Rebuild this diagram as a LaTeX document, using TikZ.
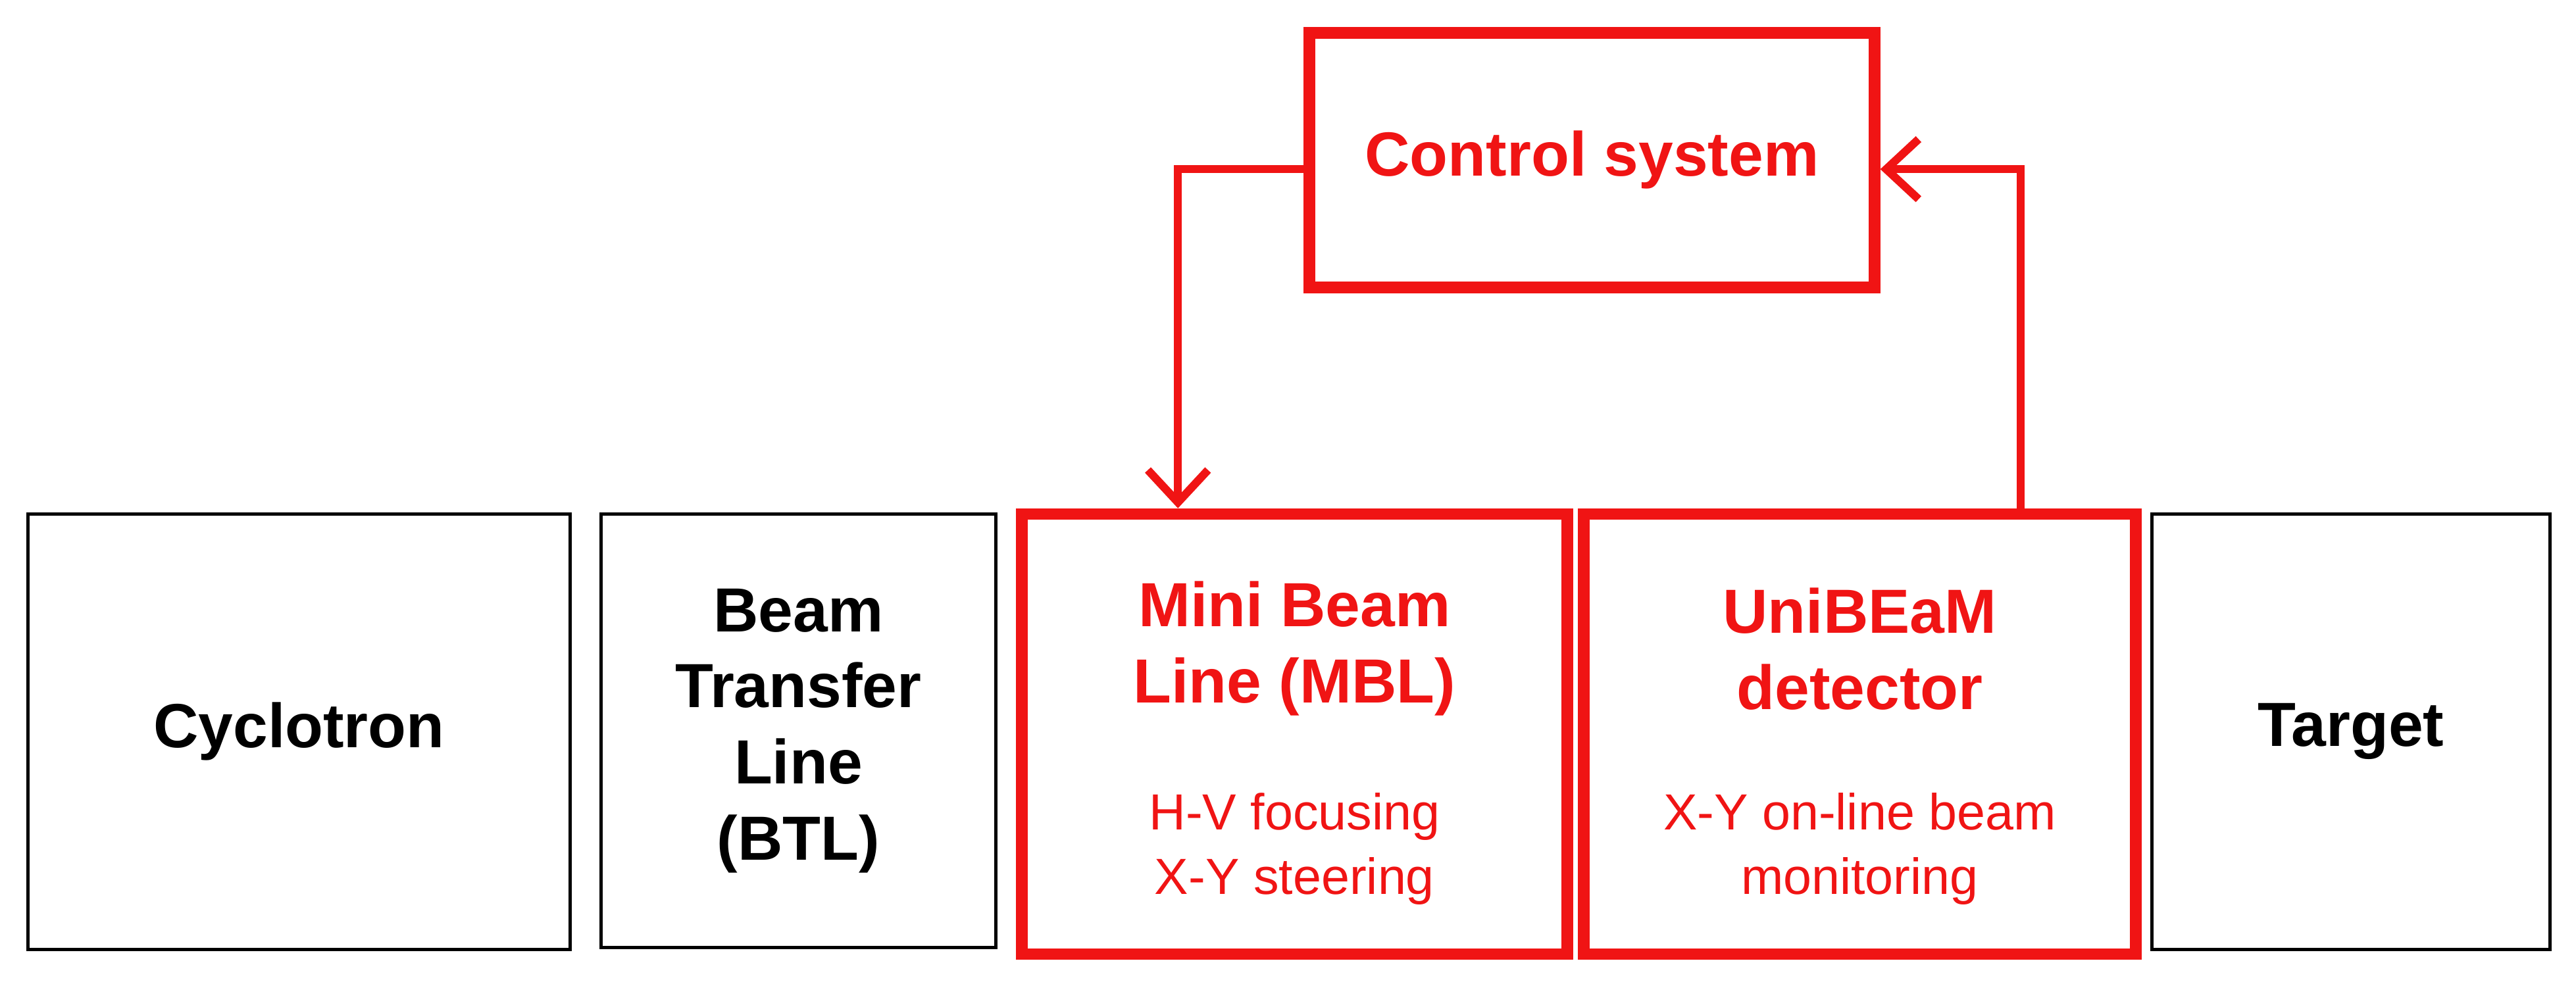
\documentclass[tikz,border=0pt]{standalone}
\usepackage{fontspec}
\setmainfont{Liberation Sans}
\usetikzlibrary{arrows.meta}
\definecolor{rd}{RGB}{240,20,20}
\begin{document}
\begin{tikzpicture}[x=0.025cm,y=-0.025cm,
 blk/.style={draw=black,line width=1.4pt,align=center,font=\bfseries\fontsize{27}{33}\selectfont,inner sep=0pt},
 red/.style={draw=rd,line width=5pt,align=center,text=rd,font=\bfseries\fontsize{27}{33}\selectfont,inner sep=0pt},
 sub/.style={font=\fontsize{22}{28}\selectfont,text=rd},
 conn/.style={draw=rd,line width=3.5pt,-{Straight Barb[length=14pt,width=26pt,line width=3.5pt]}}]
\useasboundingbox (0,0) rectangle (1568,600);
\node[blk,minimum width=330*0.025cm,minimum height=265*0.025cm] (cyc) at (182,445.5) {Cyclotron};
\node[blk,minimum width=240*0.025cm,minimum height=264*0.025cm] (btl) at (486,445) {Beam\\Transfer\\Line\\(BTL)};
\node[red,minimum width=332*0.025cm,minimum height=268*0.025cm] (mbl) at (788,447) {};
\node[red,minimum width=336*0.025cm,minimum height=268*0.025cm] (uni) at (1132,447) {};
\node[blk,minimum width=242*0.025cm,minimum height=265*0.025cm] (tgt) at (1431,445.5) {Target};
\node[red,minimum width=344*0.025cm,minimum height=155*0.025cm] (ctl) at (969,97.5) {Control system};
\node[text=rd,align=center,font=\bfseries\fontsize{27}{33}\selectfont] (mblt) at (788,395) {Mini Beam\\Line (MBL)};
\node[sub,align=center] (mbls) at (788,517) {H-V focusing\\X-Y steering};
\node[text=rd,align=center,font=\bfseries\fontsize{27}{33}\selectfont] (unit) at (1132,395) {UniBEaM\\detector};
\node[sub,align=center] (unis) at (1132,517) {X-Y on-line beam\\monitoring};
\coordinate (a1) at (717,103);
\coordinate (a2) at (1230,103);
\draw[conn] (ctl.west|-a1) -- (a1) -- (a1|-mbl.north);
\draw[conn] (a2|-uni.north) -- (a2) -- (ctl.east|-a2);
\end{tikzpicture}
\end{document}
